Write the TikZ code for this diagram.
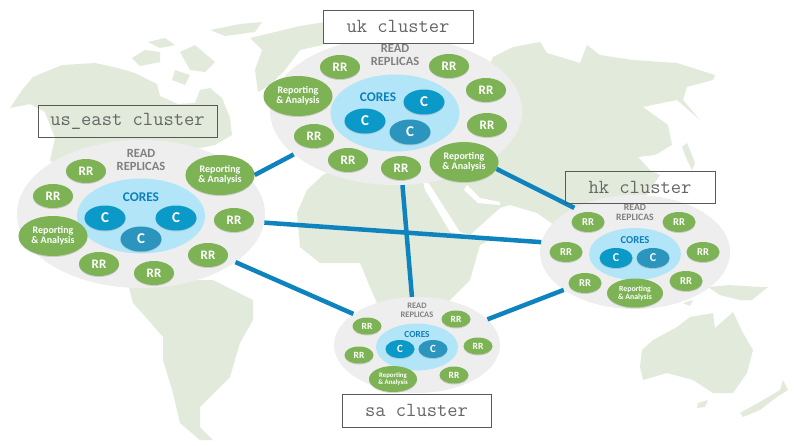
\documentclass[tikz,border=0pt]{standalone}
\usepackage{fontspec}
\setmainfont{Carlito}
\usetikzlibrary{shapes.geometric,shadows}
\definecolor{mapgreen}{HTML}{E2EBDB}
\definecolor{clustergray}{HTML}{EEEEEE}
\definecolor{coreblue}{HTML}{B3E5F9}
\definecolor{cdark}{HTML}{0B9AC8}
\definecolor{cmuted}{HTML}{2C95BD}
\definecolor{rrgreen}{HTML}{7DB355}
\definecolor{linkblue}{HTML}{0F83BD}
\definecolor{coretext}{HTML}{0E7FB8}
\tikzset{
    land/.style={fill=mapgreen},
    cluster/.style={ellipse,fill=clustergray,inner sep=0pt},
    cores/.style={ellipse,fill=coreblue,inner sep=0pt},
    puck/.style={ellipse,inner sep=0pt,text=white,align=center,
        drop shadow={shadow xshift=0pt,shadow yshift=-1pt,opacity=.3}},
    rra/.style={puck,fill=rrgreen,minimum width=40pt,minimum height=24pt,font=\fontsize{13}{13}\selectfont\bfseries},
    rrb/.style={puck,fill=rrgreen,minimum width=33pt,minimum height=20pt,font=\fontsize{10.5}{10.5}\selectfont\bfseries},
    rrc/.style={puck,fill=rrgreen,minimum width=29pt,minimum height=17pt,font=\fontsize{9.5}{9.5}\selectfont\bfseries},
    repa/.style={puck,fill=rrgreen,minimum width=69pt,minimum height=40pt,font=\fontsize{10}{10}\selectfont\bfseries},
    repb/.style={puck,fill=rrgreen,minimum width=56pt,minimum height=29pt,font=\fontsize{7.8}{8}\selectfont\bfseries},
    repc/.style={puck,fill=rrgreen,minimum width=48pt,minimum height=26pt,font=\fontsize{6.8}{7}\selectfont\bfseries},
    ca/.style={puck,fill=cdark,minimum width=41pt,minimum height=25pt,font=\fontsize{15}{15}\selectfont\bfseries},
    cb/.style={puck,fill=cdark,minimum width=33pt,minimum height=20pt,font=\fontsize{12}{12}\selectfont\bfseries},
    cc/.style={puck,fill=cdark,minimum width=29pt,minimum height=18pt,font=\fontsize{11}{11}\selectfont\bfseries},
    reada/.style={text=black!50,align=center,inner sep=0pt,font=\fontsize{12.5}{13}\selectfont\bfseries},
    readb/.style={reada,font=\fontsize{9.7}{10}\selectfont\bfseries},
    readc/.style={reada,font=\fontsize{8.4}{8.6}\selectfont\bfseries},
    corea/.style={text=coretext,inner sep=0pt,font=\fontsize{13.3}{13.3}\selectfont\bfseries},
    coreb/.style={corea,font=\fontsize{10.6}{10.6}\selectfont\bfseries},
    corec/.style={corea,font=\fontsize{9.3}{9.3}\selectfont\bfseries},
    tag/.style={draw=black!65,line width=1pt,inner sep=0pt,text=black!60,font=\ttfamily\fontsize{20}{20}\selectfont},
    link/.style={draw=linkblue,line width=4.5pt}
}
\begin{document}
\begin{tikzpicture}[x=1pt,y=-1pt]
    \useasboundingbox (0,0) rectangle (800,445);

    \fill[land] (10,108) -- (22,90) -- (33,77) -- (62,65) -- (95,63) -- (118,68) -- (135,73) -- (157,84) -- (160,96) -- (178,104) -- (195,103) -- (200,90) -- (210,88) -- (222,98) -- (230,118) -- (232,135) -- (215,145) -- (190,150) -- (141,200) -- (60,170) -- (50,160) -- (55,138) -- (45,112) -- (30,104) -- cycle;
    \fill[land] (132,58) -- (145,50) -- (160,52) -- (160,62) -- (140,66) -- cycle;
    \fill[land] (148,42) -- (165,38) -- (175,45) -- (160,48) -- cycle;
    \fill[land] (180,52) -- (195,45) -- (215,62) -- (205,72) -- (190,70) -- cycle;
    \fill[land] (175,70) -- (190,75) -- (185,85) -- (172,80) -- cycle;
    \fill[land] (210,30) -- (240,24) -- (262,22) -- (255,32) -- (225,36) -- cycle;
    \fill[land] (250,38) -- (275,32) -- (300,26) -- (325,22) -- (323,45) -- (300,50) -- (285,70) -- (270,85) -- (258,92) -- (255,70) -- (262,50) -- cycle;
    \fill[land] (127,280) -- (133,303) -- (150,322) -- (163,337) -- (163,360) -- (173,393) -- (180,423) -- (200,440) -- (213,440) -- (200,427) -- (200,407) -- (217,390) -- (230,377) -- (240,343) -- (253,320) -- (253,300) -- (233,290) -- (213,280) -- cycle;
    \fill[land] (323,175) -- (307,190) -- (297,213) -- (300,247) -- (320,263) -- (360,263) -- (370,287) -- (378,305) -- (420,340) -- (450,300) -- (470,280) -- (480,245) -- (490,240) -- (478,238) -- (460,234) -- (450,232) -- (425,190) -- (420,170) -- (350,160) -- cycle;
    \fill[land] (460,140) -- (493,57) -- (513,47) -- (540,42) -- (547,53) -- (580,63) -- (587,45) -- (600,55) -- (633,60) -- (677,63) -- (715,75) -- (713,80) -- (687,87) -- (683,100) -- (700,120) -- (677,100) -- (643,107) -- (668,125) -- (672,145) -- (655,155) -- (638,157) -- (650,170) -- (660,175) -- (640,205) -- (590,250) -- (537,213) -- (510,205) -- (500,208) -- (470,235) -- (460,232) -- (432,188) -- (420,170) -- cycle;
    \fill[white] (467,185) -- (480,198) -- (500,202) -- (500,205) -- (478,203) -- (464,190) -- cycle;
    \fill[land] (682,147) -- (687,143) -- (695,163) -- (692,170) -- (687,160) -- cycle;
    \fill[land] (708,287) -- (730,285) -- (760,287) -- (768,287) -- (752,300) -- (740,300) -- (720,295) -- cycle;
    \fill[land] (683,303) -- (693,300) -- (690,306) -- cycle;
    \fill[land] (642,350) -- (653,340) -- (677,327) -- (690,317) -- (713,313) -- (715,328) -- (733,312) -- (743,333) -- (753,350) -- (747,373) -- (733,393) -- (713,393) -- (693,380) -- (667,373) -- (643,380) -- (640,367) -- cycle;
    \fill[land] (698,403) -- (708,400) -- (705,407) -- (697,408) -- cycle;
    \fill[land] (783,380) -- (788,390) -- (777,397) -- (760,410) -- (743,417) -- (740,413) -- (763,400) -- (780,390) -- cycle;

    \node[cluster,minimum width=248pt,minimum height=148pt] (us) at (141,214) {};
    \node[cluster,minimum width=252pt,minimum height=148pt] (uk) at (396,111) {};
    \node[cluster,minimum width=190pt,minimum height=114pt] (hk) at (635,252) {};
    \node[cluster,minimum width=166pt,minimum height=96pt] (sa) at (417,345) {};

    \node[cores,minimum width=128pt,minimum height=75pt] (uscores) at (141,216) {};
    \node[cores,minimum width=129pt,minimum height=77pt] (ukcores) at (395,113) {};
    \node[cores,minimum width=92pt,minimum height=52pt] (hkcores) at (635,254) {};
    \node[cores,minimum width=82pt,minimum height=47pt] (sacores) at (417,347) {};

    \node[reada] (usread) at (141,160) {READ\\REPLICAS};
    \node[corea] (uscoretext) at (141,197) {CORES};
    \node[ca] (usca) at (105,218) {C};
    \node[ca] (uscb) at (176,218) {C};
    \node[ca,fill=cmuted] (uscc) at (141,239) {C};
    \node[rra] (usrra) at (86,171) {RR};
    \node[rra] (usrrb) at (53,196) {RR};
    \node[rra] (usrrc) at (234,220) {RR};
    \node[rra] (usrrd) at (208,255) {RR};
    \node[rra] (usrre) at (154,273) {RR};
    \node[rra] (usrrf) at (99,264) {RR};
    \node[repa] (usrepa) at (220,175) {Reporting\\\& Analysis};
    \node[repa] (usrepb) at (53,236) {Reporting\\\& Analysis};

    \node[reada] (ukread) at (395,55) {READ\\REPLICAS};
    \node[corea] (ukcoretext) at (378,97) {CORES};
    \node[ca] (ukca) at (365,121) {C};
    \node[ca] (ukcb) at (424,102) {C};
    \node[ca,fill=cmuted] (ukcc) at (410,132) {C};
    \node[rra] (ukrra) at (340,67) {RR};
    \node[rra] (ukrrb) at (449,66) {RR};
    \node[rra] (ukrrc) at (486,90) {RR};
    \node[rra] (ukrrd) at (487,125) {RR};
    \node[rra] (ukrre) at (401,168) {RR};
    \node[rra] (ukrrf) at (348,160) {RR};
    \node[rra] (ukrrg) at (314,136) {RR};
    \node[repa] (ukrepa) at (298,96) {Reporting\\\& Analysis};
    \node[repa] (ukrepb) at (464,162) {Reporting\\\& Analysis};

    \node[readb] (hkread) at (635,212) {READ\\REPLICAS};
    \node[coreb] (hkcoretext) at (635,240) {CORES};
    \node[cb] (hkca) at (616,258) {C};
    \node[cb,fill=cmuted] (hkcb) at (653,258) {C};
    \node[rrb] (hkrra) at (588,222) {RR};
    \node[rrb] (hkrrb) at (679,222) {RR};
    \node[rrb] (hkrrc) at (566,252) {RR};
    \node[rrb] (hkrrd) at (703,252) {RR};
    \node[rrb] (hkrre) at (585,283) {RR};
    \node[rrb] (hkrrf) at (686,281) {RR};
    \node[repb] (hkrep) at (635,293) {Reporting\\\& Analysis};

    \node[readc] (saread) at (417,310) {READ\\REPLICAS};
    \node[corec] (sacoretext) at (417,334) {CORES};
    \node[cc] (saca) at (400,349) {C};
    \node[cc,fill=cmuted] (sacb) at (433,349) {C};
    \node[rrc] (sarra) at (367,326) {RR};
    \node[rrc] (sarrb) at (456,319) {RR};
    \node[rrc] (sarrc) at (478,346) {RR};
    \node[rrc] (sarrd) at (454,375) {RR};
    \node[rrc] (sarre) at (359,355) {RR};
    \node[repc] (sarep) at (393,379) {Reporting\\\& Analysis};

    \draw[link] (usrepa.east) -- (uk.203.5);
    \draw[link] (us.-4) -- (hk.174);
    \draw[link] (us.-27) -- (sa.154);
    \draw[link] (ukrepb.-12) -- (hk.144);
    \draw[link] (uk.-85) -- (sa.96);
    \draw[link] (hk.208) -- (sa.20);

    \node[tag,minimum width=179pt,minimum height=32pt] (ustag) at (127.5,121) {us\_east cluster};
    \node[tag,fill=white,minimum width=150pt,minimum height=33pt] (uktag) at (398,26.5) {uk cluster};
    \node[tag,minimum width=150pt,minimum height=32pt] (hktag) at (640,187) {hk cluster};
    \node[tag,fill=white,minimum width=149pt,minimum height=33pt] (satag) at (416.5,410.5) {sa cluster};
\end{tikzpicture}
\end{document}
